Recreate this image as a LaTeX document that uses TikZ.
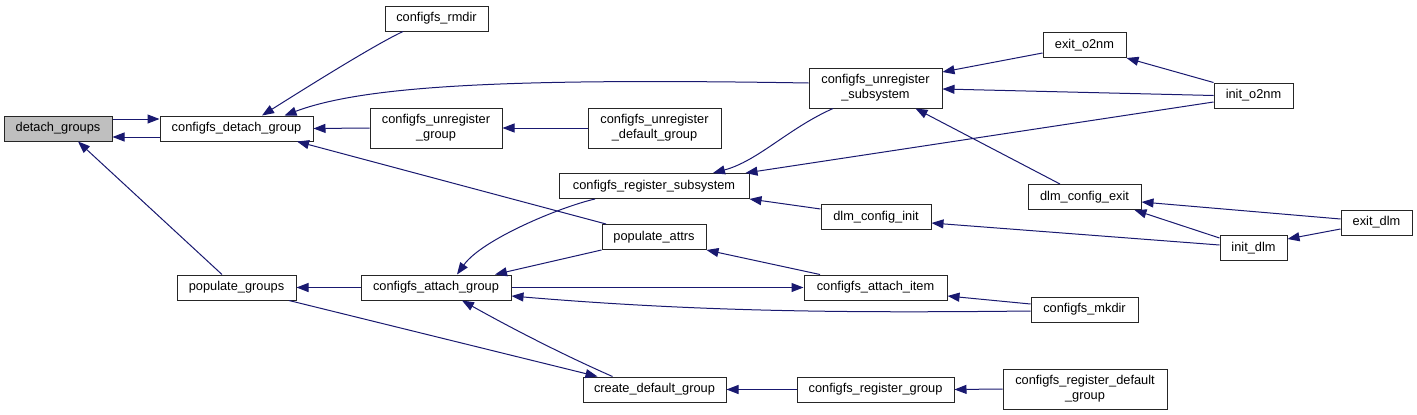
\documentclass[tikz,border=0pt]{standalone}
\usepackage{fontspec}
\setmainfont{Liberation Sans}
\usetikzlibrary{arrows.meta,calc}
\definecolor{edgecol}{RGB}{25,25,112}
\begin{document}
\begin{tikzpicture}[x=1pt,y=-1pt,
  >={Triangle[length=12pt,width=9pt]},
  box/.style={draw=black!85, line width=1pt, fill=white, inner sep=0pt,
    minimum height=25pt, align=center, font=\fontsize{12.8}{15}\selectfont},
  tall/.style={box, minimum height=40pt},
  edge/.style={draw=edgecol, line width=1pt, <-}]
\fill[white] (0,0) rectangle (1417,415);
\useasboundingbox (0,0) rectangle (1417,415);
% nodes
\node[box, minimum width=108pt, fill=black!25] (dg) at (58,128.5) {detach\_groups};
\node[box, minimum width=153pt] (cdg) at (236.5,128.5) {configfs\_detach\_group};
\node[box, minimum width=103pt] (rmdir) at (436.5,18.5) {configfs\_rmdir};
\node[tall, minimum width=132pt] (cug) at (436,128) {configfs\_unregister\\\_group};
\node[tall, minimum width=133pt] (cudg) at (654.5,128) {configfs\_unregister\\\_default\_group};
\node[tall, minimum width=133pt] (cus) at (875.5,88) {configfs\_unregister\\\_subsystem};
\node[box, minimum width=190pt] (crs) at (654,186) {configfs\_register\_subsystem};
\node[box, minimum width=110pt] (dci) at (876,217) {dlm\_config\_init};
\node[box, minimum width=83pt] (eo) at (1084.5,45) {exit\_o2nm};
\node[box, minimum width=79pt] (io) at (1253.5,95.5) {init\_o2nm};
\node[box, minimum width=113pt] (dce) at (1084.5,197) {dlm\_config\_exit};
\node[box, minimum width=71pt] (ed) at (1376.5,222.5) {exit\_dlm};
\node[box, minimum width=67pt] (id) at (1253.5,248) {init\_dlm};
\node[box, minimum width=119pt] (pg) at (236.5,287.5) {populate\_groups};
\node[box, minimum width=150pt] (cag) at (436,287.5) {configfs\_attach\_group};
\node[box, minimum width=104pt] (pa) at (654,237) {populate\_attrs};
\node[box, minimum width=143pt] (cdefg) at (654.5,389.5) {create\_default\_group};
\node[box, minimum width=143pt] (cai) at (875.5,287.5) {configfs\_attach\_item};
\node[box, minimum width=107pt] (mk) at (1084.5,309.5) {configfs\_mkdir};
\node[box, minimum width=157pt] (crg) at (875.5,389.5) {configfs\_register\_group};
\node[tall, minimum width=164pt] (crdg) at (1085,389) {configfs\_register\_default\\\_group};
% edges
\draw[edge] ($(cdg.west)+(0,-9.5)$) -- ($(dg.east)+(0,-9.5)$);
\draw[edge] ($(dg.east)+(0,8.5)$) -- ($(cdg.west)+(0,8.5)$);
\draw[edge] ($(cdg.north)+(25.5,0)$) .. controls +(35,-22) and +(-30,14) .. ($(rmdir.south)+(-33.5,0)$);
\draw[edge] ($(cdg.north)+(48,0)$) .. controls +(80,-30) and +(-300,-5) .. ($(cus.west)+(0,-5)$);
\draw[edge] (cdg.east) -- (cug.west);
\draw[edge] ($(cdg.south)+(60.5,0)$) -- ($(pa.north)+(-48,0)$);
\draw[edge] ($(dg.south)+(20,0)$) -- ($(pg.north)+(-14.5,0)$);
\draw[edge] (cug.east) -- (cudg.west);
\draw[edge] (pg.east) -- (cag.west);
\draw[edge] ($(cdefg.north)+(-57,0)$) -- ($(pg.south)+(52.5,0)$);
\draw[edge] ($(cag.south)+(26,0)$) .. controls +(50,28) and +(-50,-22) .. ($(cdefg.north)+(-42,0)$);
\draw[edge] ($(cag.north)+(21,0)$) .. controls +(25,-35) and +(-35,8) .. ($(crs.south)+(-59,0)$);
\draw[edge] ($(cag.north)+(59,0)$) -- (pa.south west);
\draw[edge] (cai.west) -- (cag.east);
\draw[edge] ($(cag.east)+(0,8.5)$) .. controls +(190,16) and +(-180,2) .. ($(mk.west)+(0,1.5)$);
\draw[edge] (pa.south east) -- ($(cai.north)+(-55.5,0)$);
\draw[edge] ($(cai.east)+(0,8.5)$) -- ($(mk.west)+(0,-5.5)$);
\draw[edge] ($(crs.north)+(59,0)$) .. controls +(45,-12) and +(-45,20) .. ($(cus.south)+(-42.5,0)$);
\draw[edge] ($(crs.north east)+(-4,0)$) -- ($(io.west)+(0,6.5)$);
\draw[edge] (crs.south east) -- ($(dci.west)+(0,-8)$);
\draw[edge] ($(cus.east)+(0,-16)$) -- ($(eo.west)+(0,8)$);
\draw[edge] ($(cus.east)+(0,1)$) -- (io.west);
\draw[edge] ($(cus.south)+(40,0)$) -- ($(dce.north)+(-24.5,0)$);
\draw[edge] (eo.south east) -- (io.north west);
\draw[edge] ($(dce.east)+(0,5)$) -- ($(ed.west)+(0,-3.5)$);
\draw[edge] ($(dce.south)+(50,0)$) -- ($(id.west)+(0,-10)$);
\draw[edge] ($(dci.east)+(0,6)$) -- ($(id.west)+(0,-3)$);
\draw[edge] ($(id.east)+(0,-9)$) -- ($(ed.west)+(0,6.5)$);
\draw[edge] (cdefg.east) -- (crg.west);
\draw[edge] (crg.east) -- (crdg.west);
\end{tikzpicture}
\end{document}
